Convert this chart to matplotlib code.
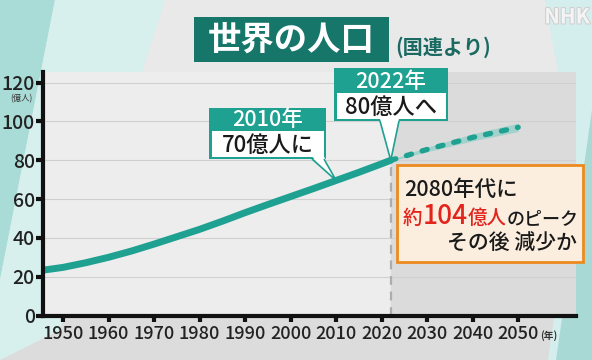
import matplotlib
matplotlib.use("Agg")
import matplotlib.pyplot as plt
from matplotlib.patches import Polygon
from matplotlib.transforms import IdentityTransform
from matplotlib import font_manager
import matplotlib.patheffects as pe

plt.rcParams['font.family'] = ['Noto Sans CJK JP', 'DejaVu Sans']

# world population (億人)
years = [1946, 1950, 1955, 1960, 1965, 1970, 1975, 1980, 1985, 1990, 1995, 2000, 2005, 2010, 2015, 2020, 2022]
pop = [23.5, 24.8, 27.2, 30.0, 33.2, 36.8, 40.6, 44.4, 48.6, 53.0, 57.2, 61.3, 65.4, 69.6, 73.8, 78.2, 80.0]

# UN projection (dotted) with its band
proj_years = [2022, 2030, 2040, 2050]
proj = [80.0, 85.6, 91.8, 97.0]
proj_low = [79.6, 84.4, 90.0, 94.8]
proj_high = [80.4, 86.8, 93.6, 99.2]

yticks = [0, 20, 40, 60, 80, 100, 120]
xticks = [1950, 1960, 1970, 1980, 1990, 2000, 2010, 2020, 2030, 2040, 2050]

W, H = 592, 360
TEAL = '#1fa192'
DARK_TEAL = '#16766a'
RED = '#e3241c'

names = {f.name for f in font_manager.fontManager.ttflist}
narrow = ['Liberation Sans Narrow', 'Noto Sans CJK JP'] if 'Liberation Sans Narrow' in names else ['Noto Sans CJK JP']

fig = plt.figure(figsize=(W / 100, H / 100), dpi=100)
fig.patch.set_facecolor('#e9e9e9')
ID = IdentityTransform()


def px(x, y):
    # pixel from top-left -> display coords
    return (x, H - y)


def poly(pts, closed=True, **kw):
    p = Polygon([px(x, y) for x, y in pts], closed=closed, transform=ID, **kw)
    fig.add_artist(p)
    return p


# background shapes
poly([(0, 0), (55, 0), (0, 280)], facecolor='#aadcd7', edgecolor='none', zorder=-2)
poly([(55, 0), (165, 0), (60, 330), (0, 360), (0, 280)], facecolor='#d7efed', edgecolor='none', zorder=-2)
poly([(0, 318), (592, 318), (592, 360), (0, 360)], facecolor='#dcdcdc', edgecolor='none', zorder=-3)
poly([(545, 0), (592, 0), (592, 360), (548, 360), (575, 170)], facecolor='#d3eeec', edgecolor='none', zorder=-2)
poly([(592, 110), (592, 360), (556, 360)], facecolor='#a9d9d4', edgecolor='none', zorder=-2)

ax = fig.add_axes([43 / W, 1 - 315.5 / H, (576 - 43) / W, (315.5 - 72) / H])
ax.set_facecolor('#ededed')
ax.set_xlim(1945.6, 2062.7)
ax.set_ylim(0, 125.5)

ax.axvspan(2022, 2062.7, color='#dbdbdb', zorder=0)
for yv in yticks[1:]:
    ax.axhline(yv, color='#d0d0d0', lw=0.8, zorder=1)
ax.vlines(2022, 0, pop[-1], colors='#adadad', linestyles=(0, (4, 3)), lw=1.6, zorder=2)

ax.fill_between(proj_years, proj_low, proj_high, color='#a3d2cd', lw=0, zorder=3)
ax.plot(proj_years, proj, color=TEAL, lw=3.8, linestyle=(0, (1, 2.1)),
        dash_capstyle='round', zorder=4)
ax.plot(years, pop, color=TEAL, lw=5, solid_capstyle='round', zorder=5)

for s in ['top', 'right']:
    ax.spines[s].set_visible(False)
for s in ['left', 'bottom']:
    ax.spines[s].set_linewidth(3)
    ax.spines[s].set_color('#111111')
    ax.spines[s].set_zorder(6)

ax.set_yticks(yticks)
ax.set_xticks(xticks)
ax.tick_params(axis='y', length=5, width=3, color='#111111', pad=1,
               labelsize=14, labelcolor='#222222')
ax.tick_params(axis='x', length=4, width=3, color='#111111', pad=3,
               labelsize=13, labelcolor='#222222')
for lab in ax.get_xticklabels() + ax.get_yticklabels():
    lab.set_family(narrow)
    lab.set_fontweight('medium')

fig.text(*px(21, 99), '(億人)', transform=ID, fontsize=6, ha='center', va='center', color='#333333')
fig.text(*px(549, 336), '(年)', transform=ID, fontsize=7, ha='center', va='center',
         color='#333333', fontweight='bold')

# title
poly([(194, 17), (389, 17), (389, 62), (194, 62)], facecolor=DARK_TEAL, edgecolor='none', zorder=5)
fig.text(*px(291, 40), '世界の人口', transform=ID, fontsize=24, fontweight='bold',
         color='white', ha='center', va='center', zorder=6)
fig.text(*px(443, 47), '(国連より)', transform=ID, fontsize=14.5, fontweight='bold',
         color='#1b6a62', ha='center', va='center', zorder=6)

# NHK mark
fig.text(*px(567, 17), 'NHK', transform=ID, fontsize=15, fontweight='bold', style='italic',
         color='#f4f4f4', ha='center', va='center', zorder=6,
         path_effects=[pe.withStroke(linewidth=1.5, foreground='#cfcfcf')])


def callout(x0, x1, y0, ym, y1, px0, px1, tip, top, bottom):
    poly([(x0, y0), (x1, y0), (x1, y1), (x0, y1)], facecolor=TEAL, edgecolor='none', zorder=7)
    poly([(x0 + 2.5, ym), (x1 - 2.5, ym), (x1 - 2.5, y1 - 2), (x0 + 2.5, y1 - 2)],
         facecolor='white', edgecolor='none', zorder=8)
    poly([(px0, y1 - 2.5), (px1, y1 - 2.5), tip], facecolor='white', edgecolor='none', zorder=8)
    poly([(px0, y1), tip, (px1, y1)], closed=False, facecolor='none', edgecolor=TEAL,
         lw=1.2, zorder=9)
    fig.text(*px((x0 + x1) / 2, (y0 + ym) / 2 + 1), top, transform=ID, fontsize=15.5,
             color='white', ha='center', va='center', fontweight='medium', zorder=10)
    fig.text(*px((x0 + x1) / 2, (ym + y1) / 2), bottom, transform=ID, fontsize=16,
             color='#1a1a1a', ha='center', va='center', fontweight='medium', zorder=10)


def data_px(x, y):
    dx, dy = ax.transData.transform((x, y))
    return (dx, H - dy)


tip2010 = data_px(2010, pop[years.index(2010)])
tip2022 = data_px(2022, pop[-1])
callout(209, 326, 108, 131, 159, 312, 324, tip2010, '2010年', '70億人に')
callout(334, 448, 68, 93, 121, 380, 399, tip2022, '2022年', '80億人へ')

# orange note
poly([(397, 165), (583, 165), (583, 262), (397, 262)], facecolor='#fbeedf',
     edgecolor='#ec8a1f', lw=2, zorder=7)
fig.text(*px(404, 196), '2080年代に', transform=ID, fontsize=15.5, color='#1a1a1a',
         ha='left', va='baseline', fontweight='medium', zorder=10)
renderer = fig.canvas.get_renderer()
xcur = 403
for s, c, fs in [('約', RED, 14), ('104', RED, 19), ('億人', RED, 14), ('のピーク', '#1a1a1a', 13)]:
    t = fig.text(*px(xcur, 224), s, transform=ID, fontsize=fs, color=c,
                 ha='left', va='baseline', fontweight='medium', zorder=10)
    xcur += t.get_window_extent(renderer).width
fig.text(*px(577, 250), 'その後 減少か', transform=ID, fontsize=15, color='#1a1a1a',
         ha='right', va='baseline', fontweight='medium', zorder=10)

fig.savefig('out.png', dpi=100)
